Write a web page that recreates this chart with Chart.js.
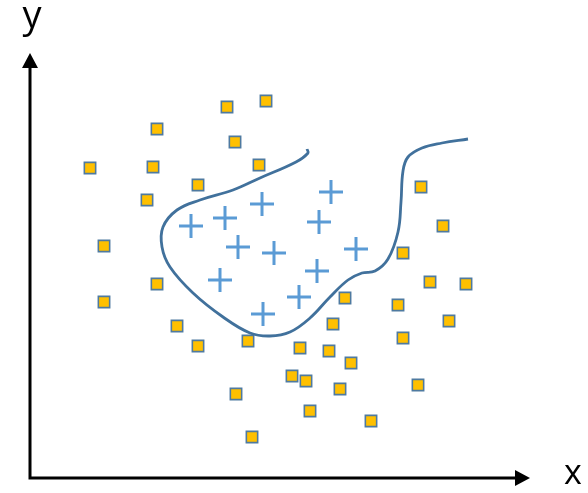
<!DOCTYPE html>
<html>
<head>
<meta charset="utf-8">
<script src="https://cdn.jsdelivr.net/npm/chart.js@4.4.0/dist/chart.umd.min.js"></script>
<style>
  html, body { margin: 0; padding: 0; background: #fff; }
  #wrap { width: 588px; height: 493px; }
</style>
</head>
<body>
<div id="wrap"><canvas id="plot" width="588" height="493"></canvas></div>
<script>
// class A: squares outside the boundary (x right from origin, y up from origin)
const squaresX = [197, 236, 127, 205, 60, 123, 229, 168, 117, 391, 413, 74, 373, 127, 400, 436, 74, 315, 368, 147, 303, 419, 218, 168, 373, 270, 299, 321, 262, 276, 310, 388, 206, 280, 341, 222];
const squaresY = [371, 377, 349, 336, 310, 311, 313, 293, 278, 291, 252, 232, 225, 194, 196, 194, 176, 180, 173, 152, 154, 157, 137, 132, 140, 130, 127, 115, 102, 97, 89, 93, 84, 67, 57, 41];

// class B: crosses inside the boundary
const crossX = [161, 195, 232, 301, 289, 208, 244, 326, 190, 287, 269, 233];
const crossY = [252, 260, 274, 286, 256, 231, 225, 229, 198, 207, 181, 164];

// decision boundary
const curveX = [277, 278, 266, 230, 203, 170, 147, 133, 132, 140, 163, 193, 220, 240, 260, 280, 300, 318, 332, 345, 358, 368, 371, 373, 378, 392, 412, 438];
const curveY = [329, 325, 316, 300, 288, 278, 268, 251, 231, 211, 185, 161, 145, 142, 146, 160, 181, 198, 205, 207, 219, 246, 276, 307, 321, 330, 335, 339];

const axisEnd = { x: 500, y: 425 };

const toPts = (xs, ys) => xs.map((x, i) => ({ x: x, y: ys[i] }));

const axesPlugin = {
  id: 'arrowAxes',
  afterDraw(chart) {
    const c = chart.ctx;
    const sx = chart.scales.x, sy = chart.scales.y;
    const ox = sx.getPixelForValue(0), oy = sy.getPixelForValue(0);
    const ex = sx.getPixelForValue(axisEnd.x), ey = sy.getPixelForValue(axisEnd.y);
    c.save();
    c.strokeStyle = '#000';
    c.fillStyle = '#000';
    c.lineWidth = 3;
    c.beginPath();
    c.moveTo(ox, oy + 1.5);
    c.lineTo(ox, ey + 12);
    c.moveTo(ox - 1.5, oy);
    c.lineTo(ex - 12, oy);
    c.stroke();
    // arrow heads
    c.beginPath();
    c.moveTo(ox, ey);
    c.lineTo(ox - 8, ey + 15);
    c.lineTo(ox + 8, ey + 15);
    c.closePath();
    c.fill();
    c.beginPath();
    c.moveTo(ex, oy);
    c.lineTo(ex - 15, oy - 8);
    c.lineTo(ex - 15, oy + 8);
    c.closePath();
    c.fill();
    // axis letters
    c.font = '38px "Open Sans", sans-serif';
    c.textAlign = 'center';
    c.textBaseline = 'middle';
    c.fillText('y', ox + 2, ey - 36);
    c.font = '34px "Open Sans", sans-serif';
    c.fillText('x', ex + 43, oy - 4);
    c.restore();
  }
};

new Chart(document.getElementById('plot').getContext('2d'), {
  type: 'scatter',
  data: {
    datasets: [
      {
        label: 'boundary',
        data: toPts(curveX, curveY),
        showLine: true,
        tension: 0.4,
        borderColor: '#41719C',
        borderWidth: 2.8,
        pointRadius: 0,
        fill: false,
        clip: false
      },
      {
        label: 'A',
        data: toPts(squaresX, squaresY),
        pointStyle: 'rect',
        pointRadius: 8,
        backgroundColor: '#FFC000',
        borderColor: '#4F7AA0',
        borderWidth: 1.6,
        clip: false
      },
      {
        label: 'B',
        data: toPts(crossX, crossY),
        pointStyle: 'cross',
        pointRadius: 12,
        borderColor: '#5B9BD5',
        borderWidth: 3,
        clip: false
      }
    ]
  },
  options: {
    responsive: false,
    animation: false,
    layout: { padding: 0, autoPadding: false },
    plugins: { legend: { display: false }, tooltip: { enabled: false } },
    scales: {
      x: { type: 'linear', display: false, min: -30, max: 558 },
      y: { type: 'linear', display: false, min: -15, max: 478 }
    }
  },
  plugins: [axesPlugin]
});
</script>
</body>
</html>
